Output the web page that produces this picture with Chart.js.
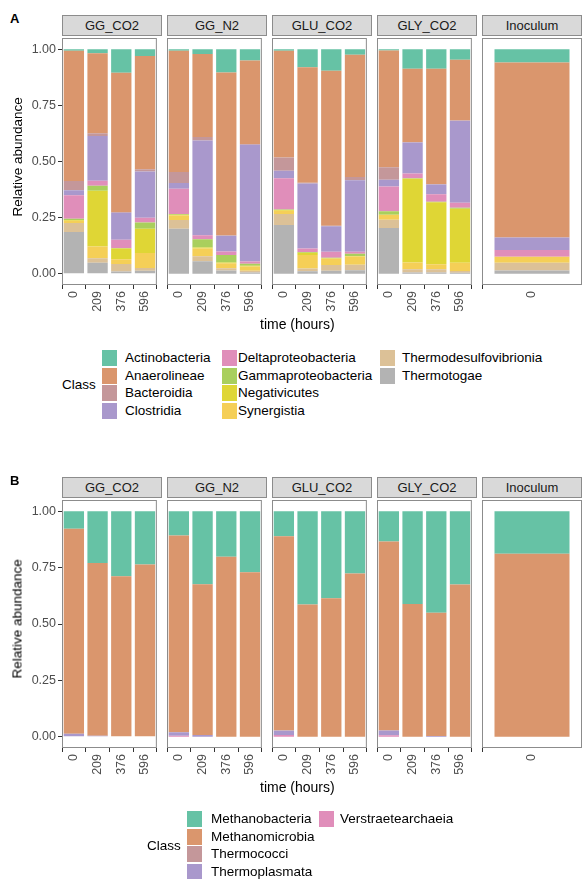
<!DOCTYPE html>
<html>
<head>
<meta charset="utf-8">
<script src="https://cdn.jsdelivr.net/npm/chart.js@4.4.0/dist/chart.umd.min.js"></script>
<style>
  body { margin: 0; background: #fff; font-family: "Liberation Sans", Arial, sans-serif; }
  #wrap { position: relative; width: 584px; height: 879px; overflow: hidden; }
  .abs { position: absolute; }
  .strip { position: absolute; background: #d9d9d9; border: 1px solid #8c8c8c; box-sizing: border-box;
           font-size: 13px; color: #1a1a1a; text-align: center; line-height: 19px; }
  .lbl { position: absolute; font-size: 13px; color: #000; white-space: nowrap; }
  .key { position: absolute; width: 15px; height: 16px; }
</style>
</head>
<body>
<div id="wrap"></div>
<script>
const facets = ['GG_CO2', 'GG_N2', 'GLU_CO2', 'GLY_CO2', 'Inoculum'];
const times = ['0', '209', '376', '596'];
const yTicks = [0, 0.25, 0.5, 0.75, 1];

// panel A classes (legend order); stacked bottom-up in reverse
const classesA = ['Actinobacteria', 'Anaerolineae', 'Bacteroidia', 'Clostridia', 'Deltaproteobacteria',
  'Gammaproteobacteria', 'Negativicutes', 'Synergistia', 'Thermodesulfovibrionia', 'Thermotogae'];
const colorsA = ['#66c2a5', '#da966d', '#c4979a', '#a998cc', '#e08eba', '#a9cf5d', '#dfd635', '#f5cf57', '#dcc197', '#b3b3b3'];

// values per facet: one array per class, one entry per time point
const dataA = {
  GG_CO2: {
    Actinobacteria:        [0.007, 0.018, 0.105, 0.030],
    Anaerolineae:          [0.580, 0.356, 0.620, 0.504],
    Bacteroidia:           [0.041, 0.012, 0.003, 0.010],
    Clostridia:            [0.022, 0.200, 0.120, 0.206],
    Deltaproteobacteria:   [0.105, 0.022, 0.037, 0.022],
    Gammaproteobacteria:   [0.006, 0.022, 0.003, 0.027],
    Negativicutes:         [0.003, 0.249, 0.047, 0.108],
    Synergistia:           [0.010, 0.052, 0.022, 0.067],
    Thermodesulfovibrionia:[0.040, 0.020, 0.033, 0.012],
    Thermotogae:           [0.186, 0.049, 0.010, 0.014]
  },
  GG_N2: {
    Actinobacteria:        [0.007, 0.021, 0.104, 0.050],
    Anaerolineae:          [0.540, 0.370, 0.725, 0.372],
    Bacteroidia:           [0.049, 0.015, 0.002, 0.003],
    Clostridia:            [0.025, 0.422, 0.070, 0.520],
    Deltaproteobacteria:   [0.113, 0.018, 0.015, 0.010],
    Gammaproteobacteria:   [0.003, 0.037, 0.034, 0.009],
    Negativicutes:         [0.003, 0.005, 0.003, 0.004],
    Synergistia:           [0.020, 0.034, 0.022, 0.018],
    Thermodesulfovibrionia:[0.040, 0.022, 0.010, 0.008],
    Thermotogae:           [0.200, 0.056, 0.015, 0.006]
  },
  GLU_CO2: {
    Actinobacteria:        [0.007, 0.080, 0.096, 0.025],
    Anaerolineae:          [0.475, 0.515, 0.690, 0.544],
    Bacteroidia:           [0.059, 0.003, 0.002, 0.015],
    Clostridia:            [0.034, 0.289, 0.114, 0.318],
    Deltaproteobacteria:   [0.139, 0.016, 0.027, 0.009],
    Gammaproteobacteria:   [0.002, 0.003, 0.002, 0.010],
    Negativicutes:         [0.003, 0.010, 0.002, 0.002],
    Synergistia:           [0.015, 0.060, 0.028, 0.037],
    Thermodesulfovibrionia:[0.049, 0.013, 0.025, 0.024],
    Thermotogae:           [0.217, 0.011, 0.014, 0.016]
  },
  GLY_CO2: {
    Actinobacteria:        [0.006, 0.087, 0.087, 0.047],
    Anaerolineae:          [0.520, 0.326, 0.513, 0.270],
    Bacteroidia:           [0.055, 0.002, 0.002, 0.002],
    Clostridia:            [0.030, 0.138, 0.044, 0.365],
    Deltaproteobacteria:   [0.111, 0.022, 0.033, 0.022],
    Gammaproteobacteria:   [0.015, 0.002, 0.002, 0.004],
    Negativicutes:         [0.000, 0.373, 0.277, 0.241],
    Synergistia:           [0.022, 0.030, 0.022, 0.037],
    Thermodesulfovibrionia:[0.037, 0.014, 0.014, 0.008],
    Thermotogae:           [0.204, 0.006, 0.006, 0.004]
  },
  Inoculum: {
    Actinobacteria:        [0.059],
    Anaerolineae:          [0.780],
    Bacteroidia:           [0.000],
    Clostridia:            [0.055],
    Deltaproteobacteria:   [0.030],
    Gammaproteobacteria:   [0.000],
    Negativicutes:         [0.000],
    Synergistia:           [0.027],
    Thermodesulfovibrionia:[0.034],
    Thermotogae:           [0.015]
  }
};

const classesB = ['Methanobacteria', 'Methanomicrobia', 'Thermococci', 'Thermoplasmata', 'Verstraetearchaeia'];
const colorsB = ['#66c2a5', '#da966d', '#c4979a', '#a998cc', '#e08eba'];

const dataB = {
  GG_CO2: {
    Methanobacteria:   [0.078, 0.229, 0.288, 0.236],
    Methanomicrobia:   [0.909, 0.767, 0.712, 0.764],
    Thermococci:       [0.000, 0.000, 0.000, 0.000],
    Thermoplasmata:    [0.013, 0.004, 0.000, 0.000],
    Verstraetearchaeia:[0.000, 0.000, 0.000, 0.000]
  },
  GG_N2: {
    Methanobacteria:   [0.107, 0.324, 0.202, 0.270],
    Methanomicrobia:   [0.873, 0.668, 0.798, 0.730],
    Thermococci:       [0.000, 0.000, 0.000, 0.000],
    Thermoplasmata:    [0.016, 0.008, 0.000, 0.000],
    Verstraetearchaeia:[0.004, 0.000, 0.000, 0.000]
  },
  GLU_CO2: {
    Methanobacteria:   [0.111, 0.414, 0.386, 0.276],
    Methanomicrobia:   [0.860, 0.586, 0.614, 0.724],
    Thermococci:       [0.003, 0.000, 0.000, 0.000],
    Thermoplasmata:    [0.018, 0.000, 0.000, 0.000],
    Verstraetearchaeia:[0.008, 0.000, 0.000, 0.000]
  },
  GLY_CO2: {
    Methanobacteria:   [0.134, 0.411, 0.450, 0.325],
    Methanomicrobia:   [0.838, 0.589, 0.547, 0.675],
    Thermococci:       [0.000, 0.000, 0.000, 0.000],
    Thermoplasmata:    [0.022, 0.000, 0.003, 0.000],
    Verstraetearchaeia:[0.006, 0.000, 0.000, 0.000]
  },
  Inoculum: {
    Methanobacteria:   [0.188],
    Methanomicrobia:   [0.812],
    Thermococci:       [0.000],
    Thermoplasmata:    [0.000],
    Verstraetearchaeia:[0.000]
  }
};

const wrap = document.getElementById('wrap');
const panelX = [62, 167, 272, 377, 482];
const panelW = 100;
const yAxisW = 40;
const xAxisH = 36;

const el = (cls, css, text) => {
  const d = document.createElement('div');
  d.className = cls;
  Object.assign(d.style, css);
  if (text != null) d.textContent = text;
  wrap.appendChild(d);
  return d;
};

const borderPlugin = {
  id: 'panelBorder',
  afterDraw(chart) {
    const { ctx, chartArea: a } = chart;
    ctx.save();
    ctx.strokeStyle = '#8c8c8c';
    ctx.lineWidth = 1;
    ctx.strokeRect(a.left + 0.5, a.top + 0.5, a.right - a.left - 1, a.bottom - a.top - 1);
    ctx.restore();
  }
};

function drawPanel(facetIdx, plotTop, plotH, classes, colors, data) {
  const facet = facets[facetIdx];
  const first = facetIdx === 0;
  const inoc = facet === 'Inoculum';
  const labels = inoc ? ['0'] : times;
  const left = first ? panelX[0] - yAxisW : panelX[facetIdx];
  const width = first ? panelW + yAxisW : panelW;

  const canvasBox = el('abs', { left: left + 'px', top: plotTop + 'px', width: width + 'px', height: (plotH + xAxisH) + 'px' });
  const canvas = document.createElement('canvas');
  canvasBox.appendChild(canvas);

  // stack bottom-up in reverse legend order (ggplot default)
  const datasets = classes.slice().reverse().map((c) => ({
    label: c,
    data: data[facet][c],
    backgroundColor: colors[classes.indexOf(c)],
    borderWidth: 0,
    categoryPercentage: 1,
    barPercentage: inoc ? 0.75 : 0.857
  }));

  new Chart(canvas, {
    type: 'bar',
    data: { labels, datasets },
    plugins: [borderPlugin],
    options: {
      responsive: true,
      maintainAspectRatio: false,
      animation: false,
      layout: { padding: 0 },
      plugins: { legend: { display: false }, tooltip: { enabled: false } },
      scales: {
        x: {
          stacked: true,
          grid: { display: true, drawOnChartArea: false, tickLength: 4, color: '#333' },
          border: { display: false },
          ticks: { autoSkip: false, minRotation: 90, maxRotation: 90, color: '#4d4d4d',
                   font: { family: 'Liberation Sans', size: 12.5 }, padding: 2 },
          afterFit: (s) => { s.height = xAxisH; }
        },
        y: {
          display: first,
          stacked: true,
          min: -0.05,
          max: 1.05,
          afterBuildTicks: (s) => { s.ticks = yTicks.map((v) => ({ value: v })); },
          grid: { display: true, drawOnChartArea: false, tickLength: 4, color: '#333' },
          border: { display: false },
          ticks: { color: '#4d4d4d', font: { family: 'Liberation Sans', size: 12.5 }, padding: 2,
                   callback: (v) => Number(v).toFixed(2) },
          afterFit: (s) => { if (first) { s.width = yAxisW; s.paddingTop = 0; s.paddingBottom = 0; } }
        }
      }
    }
  });

  el('strip', { left: panelX[facetIdx] + 'px', top: (plotTop - 23) + 'px', width: panelW + 'px', height: '21px' }, facet);
}

function drawFacetRow(letter, plotTop, plotH, classes, colors, data, legendTop, legendCols) {
  el('lbl', { left: '10px', top: (plotTop - 27) + 'px', fontWeight: 'bold', fontSize: '13px' }, letter);
  facets.forEach((f, i) => drawPanel(i, plotTop, plotH, classes, colors, data));
  el('lbl', { left: '-38px', top: (plotTop + plotH / 2 - 8) + 'px', width: '110px', textAlign: 'center',
              transform: 'rotate(-90deg)', fontSize: '13.5px' }, 'Relative abundance');
  el('lbl', { left: '260px', top: (plotTop + plotH + 31) + 'px', fontSize: '14px' }, 'time (hours)');

  // legend, filled column-wise
  const pitch = 17.7;
  const nRows = 4;
  legendCols.forEach((col, ci) => {
    for (let r = 0; r < nRows; r++) {
      const idx = ci * nRows + r;
      if (idx >= classes.length) break;
      const y = legendTop + r * pitch;
      el('key', { left: col[0] + 'px', top: y + 'px', background: colors[idx] });
      el('lbl', { left: col[1] + 'px', top: y + 'px', fontSize: '13.5px' }, classes[idx]);
    }
  });
  el('lbl', { left: (legendCols[0][0] - 40) + 'px', top: (legendTop + 1.5 * pitch) + 'px', fontSize: '13.5px' }, 'Class');
}

drawFacetRow('A', 38, 247, classesA, colorsA, dataA, 350, [[102, 125], [222, 238], [380, 402]]);
drawFacetRow('B', 500, 248, classesB, colorsB, dataB, 811, [[187, 211], [319, 340]]);
</script>
</body>
</html>
